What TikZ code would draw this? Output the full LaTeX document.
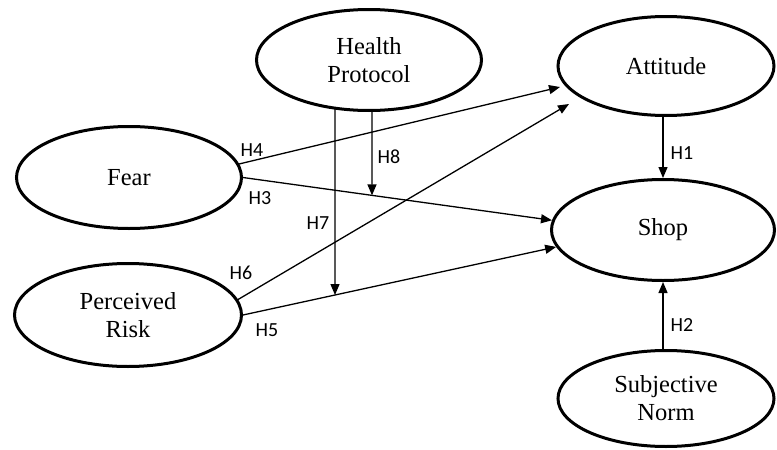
\documentclass[tikz,border=0pt]{standalone}
\usepackage{fontspec}
\setmainfont{Liberation Serif}
\newfontfamily\labelfont{Carlito}
\usetikzlibrary{shapes.geometric,arrows.meta,calc,intersections,backgrounds}
\begin{document}
\begin{tikzpicture}[x=1pt,y=-1pt,
  latent/.style={ellipse, draw, line width=3pt, fill=white, inner sep=0pt, align=center,
                 font=\fontsize{24.5}{28}\selectfont},
  hyp/.style={line width=1.3pt, -{Triangle[length=11pt,width=9pt]}},
  hlab/.style={font=\labelfont\fontsize{20}{22}\selectfont, inner sep=0pt}]
\begin{pgfonlayer}{background}
\fill[white] (0,0) rectangle (777,450);
\end{pgfonlayer}
\useasboundingbox (0,0) rectangle (777,450);

% constructs
\node[latent, minimum width=225pt, minimum height=101pt] (hp)   at (369,60)    {Health\\Protocol};
\node[latent, minimum width=216pt, minimum height=99pt]  (att)  at (666,66)    {Attitude};
\node[latent, minimum width=225pt, minimum height=102pt] (fear) at (129,177.5) {Fear};
\node[latent, minimum width=223pt, minimum height=101pt] (shop) at (663,230)   {Shop};
\node[latent, minimum width=227pt, minimum height=103pt] (pr)   at (128,315)   {Perceived\\Risk};
\node[latent, minimum width=216pt, minimum height=96pt]  (sn)   at (666,398.5) {Subjective\\Norm};

% direct paths
\draw[hyp] (fear.7) -- ($(att.center)+(-106,21)$);
\draw[hyp, name path=h3] (fear.east) -- (shop.175);
\draw[hyp] (pr.8) -- ($(att.center)+(-97,38)$);
\draw[hyp, name path=h5] (pr.east) -- (shop.189);
\draw[hyp] (att.south -| shop.north) -- (shop.north);
\draw[hyp] (sn.north -| shop.south) -- (shop.south);

% moderating paths
\path[name path=v8] ($(hp.center)+(3,0)$) -- ++(0,250);
\path[name path=v7] ($(hp.center)+(-34,0)$) -- ++(0,300);
\path[name intersections={of=h3 and v8, by=m8}];
\path[name intersections={of=h5 and v7, by=m7}];
\begin{pgfonlayer}{background}
\draw[hyp] ($(hp.center)+(3,0)$) -- (m8);
\draw[hyp] ($(hp.center)+(-34,0)$) -- (m7);
\end{pgfonlayer}

% labels
\node[hlab] (l1) at (682,153) {H1};
\node[hlab] (l2) at (682,325) {H2};
\node[hlab] (l3) at (260,198) {H3};
\node[hlab] (l4) at (252,150) {H4};
\node[hlab] (l5) at (267,330) {H5};
\node[hlab] (l6) at (241,273) {H6};
\node[hlab] (l7) at (318,223) {H7};
\node[hlab] (l8) at (389,157) {H8};
\end{tikzpicture}
\end{document}
